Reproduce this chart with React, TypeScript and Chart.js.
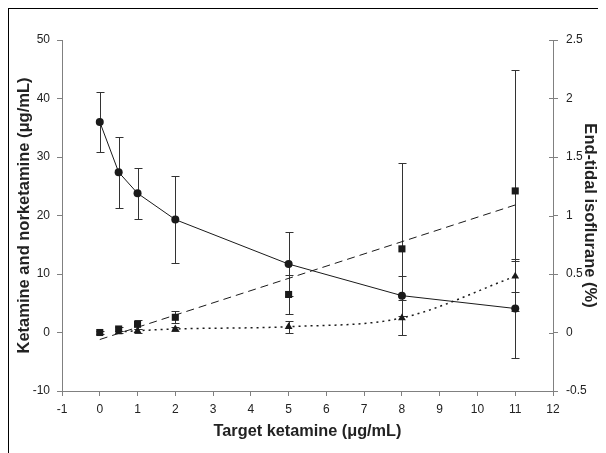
import React, { useEffect, useRef } from "react";
import { Chart, registerables } from "chart.js";

Chart.register(...registerables);

// Target ketamine (µg/mL)
const xVals = [0, 0.5, 1, 2, 5, 8, 11];
// End-tidal isoflurane (%) – circles, right axis
const isoVals = [1.8, 1.37, 1.19, 0.965, 0.585, 0.315, 0.205];
const isoErr = [0.255, 0.305, 0.22, 0.37, 0.275, 0.17, 0.42];
// Ketamine (µg/mL) – squares, left axis
const ketVals = [0, 0.6, 1.4, 2.6, 6.5, 14.3, 24.2];
const ketErr = [0.3, 0.4, 0.8, 1.0, 3.3, 14.7, 20.6];
// Norketamine (µg/mL) – triangles, left axis
const norX = [0.5, 1, 2, 5, 8, 11];
const norVals = [0.1, 0.3, 0.6, 1.0, 2.5, 9.6];
const norErr = [0.15, 0.3, 0.3, 1.0, 3.0, 2.6];
// Ketamine linear fit (dashed)
const regX = [0, 11];
const regY = [-1.2, 21.8];

const xTicks = [-1, 0, 1, 2, 3, 4, 5, 6, 7, 8, 9, 10, 11, 12];

const xTitle = "Target ketamine (μg/mL)";
const yTitle = "Ketamine and norketamine (μg/mL)";
const y1Title = "End-tidal isoflurane (%)";

const FONT = "'Liberation Sans', Arial, sans-serif";
const AXIS = "#808080";
const INK = "#1a1a1a";
const TEXT = "#222";

const errorBars = {
  id: "errorBars",
  beforeDatasetsDraw(chart: any) {
    const ctx = chart.ctx;
    chart.data.datasets.forEach((ds: any, i: number) => {
      if (!ds.errors) return;
      const meta = chart.getDatasetMeta(i);
      const ys = chart.scales[ds.yAxisID];
      ctx.save();
      ctx.strokeStyle = "#333";
      ctx.lineWidth = 1;
      ds.data.forEach((p: any, j: number) => {
        const e = ds.errors[j];
        if (!e) return;
        const x = Math.round(meta.data[j].x) + 0.5;
        const y1 = Math.round(ys.getPixelForValue(p.y + e)) + 0.5;
        const y2 = Math.round(ys.getPixelForValue(p.y - e)) + 0.5;
        ctx.beginPath();
        ctx.moveTo(x, y1);
        ctx.lineTo(x, y2);
        ctx.moveTo(x - 4, y1);
        ctx.lineTo(x + 4, y1);
        ctx.moveTo(x - 4, y2);
        ctx.lineTo(x + 4, y2);
        ctx.stroke();
      });
      ctx.restore();
    });
  },
};

const extras = {
  id: "extras",
  afterDraw(chart: any) {
    const ctx = chart.ctx;
    const s = chart.scales.y1;
    const a = chart.chartArea;
    ctx.save();
    ctx.strokeStyle = AXIS;
    ctx.lineWidth = 1;
    s.ticks.forEach((t: any) => {
      const y = Math.round(s.getPixelForValue(t.value)) + 0.5;
      ctx.beginPath();
      ctx.moveTo(s.left - 4, y);
      ctx.lineTo(s.left, y);
      ctx.stroke();
    });
    ctx.fillStyle = TEXT;
    ctx.textAlign = "center";
    ctx.textBaseline = "middle";
    const midY = (a.top + a.bottom) / 2;
    // x title
    ctx.font = `bold 16.3px ${FONT}`;
    ctx.fillText(xTitle, (a.left + a.right) / 2, 423);
    // left title
    ctx.save();
    ctx.translate(15, midY);
    ctx.rotate(-Math.PI / 2);
    ctx.font = `bold 16.5px ${FONT}`;
    ctx.fillText(yTitle, 0, 0);
    ctx.restore();
    // right title
    ctx.save();
    ctx.translate(581, midY);
    ctx.rotate(Math.PI / 2);
    ctx.font = `bold 16.5px ${FONT}`;
    ctx.fillText(y1Title, 0, 0);
    ctx.restore();
    ctx.restore();
  },
};

export default function App() {
  const ref = useRef<HTMLCanvasElement>(null);
  useEffect(() => {
    if (!ref.current) return;
    const chart = new Chart(ref.current, {
      type: "scatter",
      data: {
        datasets: [
          {
            label: "Isoflurane",
            data: xVals.map((x, i) => ({ x, y: isoVals[i] })),
            errors: isoErr,
            yAxisID: "y1",
            showLine: true,
            borderColor: INK,
            borderWidth: 1,
            backgroundColor: INK,
            pointStyle: "circle",
            pointRadius: 4,
            pointBorderWidth: 0,
          } as any,
          {
            label: "Ketamine",
            data: xVals.map((x, i) => ({ x, y: ketVals[i] })),
            errors: ketErr,
            yAxisID: "y",
            showLine: false,
            backgroundColor: INK,
            borderColor: INK,
            pointStyle: "rect",
            pointRadius: 5,
            pointBorderWidth: 0,
          } as any,
          {
            label: "Norketamine",
            data: norX.map((x, i) => ({ x, y: norVals[i] })),
            errors: norErr,
            yAxisID: "y",
            showLine: true,
            borderColor: INK,
            borderWidth: 1.5,
            borderDash: [2, 4],
            cubicInterpolationMode: "monotone",
            backgroundColor: INK,
            pointStyle: "triangle",
            pointRadius: 4.5,
            pointBorderWidth: 0,
          } as any,
          {
            label: "Ketamine fit",
            data: regX.map((x, i) => ({ x, y: regY[i] })),
            yAxisID: "y",
            showLine: true,
            borderColor: INK,
            borderWidth: 1,
            borderDash: [8, 5],
            pointRadius: 0,
          } as any,
        ],
      },
      options: {
        animation: false,
        responsive: false,
        layout: { padding: { top: 31, left: 0, right: 0, bottom: 0 } },
        plugins: { legend: { display: false }, tooltip: { enabled: false } },
        scales: {
          x: {
            type: "linear",
            min: -1,
            max: 12,
            afterBuildTicks: (s: any) => {
              s.ticks = xTicks.map((v) => ({ value: v }));
            },
            afterFit: (s: any) => {
              s.height = 62;
            },
            grid: { drawOnChartArea: false, color: AXIS, tickLength: 5 },
            border: { color: AXIS },
            ticks: {
              color: TEXT,
              font: { family: FONT, size: 12 },
              padding: 6,
              maxRotation: 0,
            },
          },
          y: {
            type: "linear",
            position: "left",
            min: -10,
            max: 50,
            ticks: {
              stepSize: 10,
              color: TEXT,
              font: { family: FONT, size: 12 },
              padding: 7,
            },
            afterFit: (s: any) => {
              s.width = 53;
            },
            grid: { drawOnChartArea: false, color: AXIS, tickLength: 5 },
            border: { color: AXIS },
          },
          y1: {
            type: "linear",
            position: "right",
            min: -0.5,
            max: 2.5,
            ticks: {
              stepSize: 0.5,
              color: TEXT,
              font: { family: FONT, size: 12 },
              padding: 8,
              callback: (v: any) => String(Number(v)),
            },
            afterFit: (s: any) => {
              s.width = 53;
            },
            grid: { drawOnChartArea: false, color: AXIS, tickLength: 5 },
            border: { color: AXIS },
          },
        },
      },
      plugins: [errorBars, extras],
    } as any);
    return () => chart.destroy();
  }, []);

  return (
    <div
      style={{
        borderTop: "1px solid #000",
        borderLeft: "1px solid #000",
        width: 598,
        height: 445,
        boxSizing: "border-box",
        overflow: "hidden",
      }}
    >
      <canvas ref={ref} width={597} height={444} style={{ display: "block" }} />
    </div>
  );
}
